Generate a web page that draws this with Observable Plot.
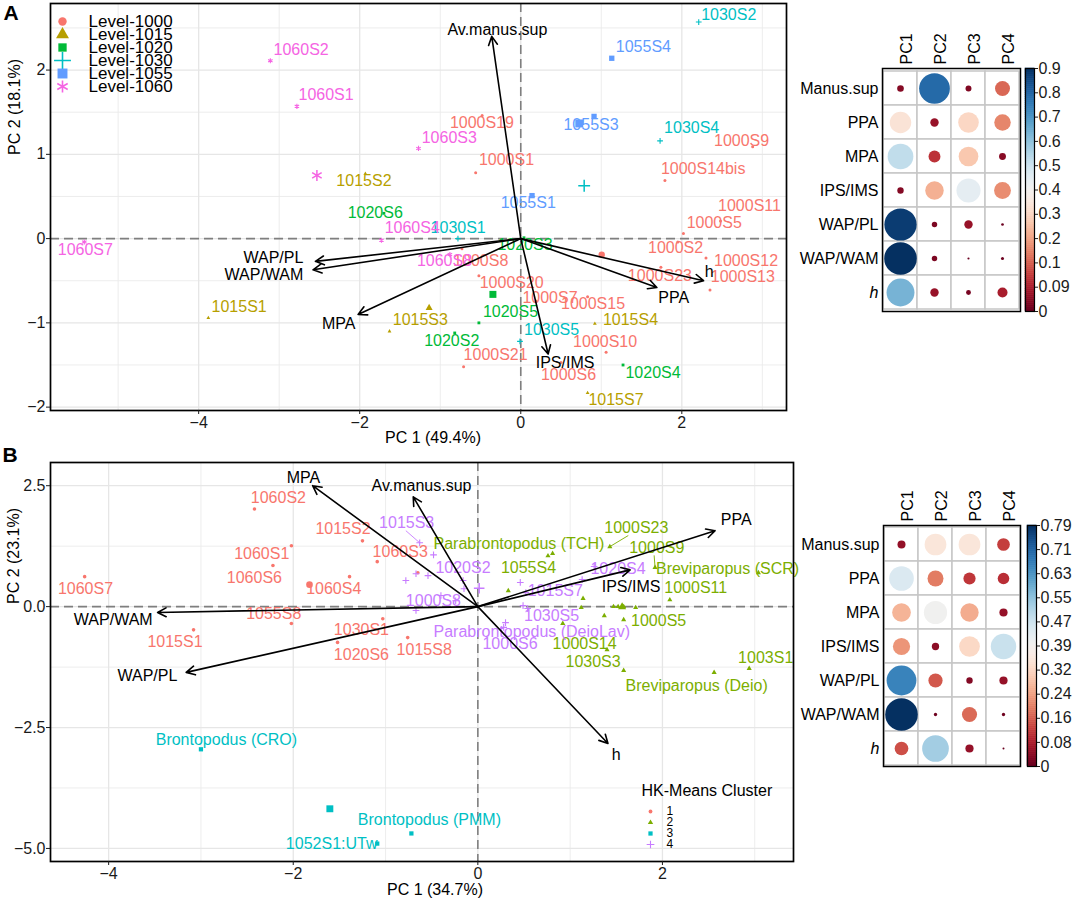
<!DOCTYPE html>
<html><head><meta charset="utf-8">
<script src="https://cdn.jsdelivr.net/npm/d3@7"></script>
<script src="https://cdn.jsdelivr.net/npm/@observablehq/plot@0.6"></script>
<style>
body{margin:0;background:#fff;}
#root{position:relative;width:1072px;height:902px;overflow:hidden;background:#fff;font-family:"Liberation Sans",Arial,sans-serif;}
</style></head><body><div id="root"></div>
<script>
// ---------------- PANEL A DATA ----------------
const namesA = ["1000S1","1000S2","1000S5","1000S6","1000S7","1000S8","1000S9","1000S10","1000S11","1000S12","1000S13","1000S14bis","1000S15","1000S19","1000S20","1000S21","1000S23",
"1015S1","1015S2","1015S3","1015S4","1015S7",
"1020S2","1020S3","1020S4","1020S5","1020S6",
"1030S1","1030S2","1030S4","1030S5",
"1055S1","1055S3","1055S4",
"1060S1","1060S2","1060S3","1060S4","1060S7","1060S8"];
const pc1A = [-0.56,1.95,2.02,0.50,0.19,-0.73,2.88,1.06,2.48,2.30,2.35,1.79,0.83,-0.48,-0.52,-0.71,1.74,
-3.88,-1.93,-1.63,0.92,0.83,
-0.82,0.04,1.27,-0.52,-1.70,
-0.78,2.21,1.73,-0.01,
0.14,0.91,1.13,
-2.78,-3.11,-1.27,-1.73,-5.42,-0.88];
const pc2A = [0.78,-0.04,0.06,-1.47,-0.74,-0.12,1.09,-1.35,0.21,-0.23,-0.61,0.69,-0.69,1.46,-0.44,-1.52,-0.34,
-0.94,0.77,-1.10,-1.01,-1.83,
-1.12,0.01,-1.50,-1.00,0.30,
0.00,2.57,1.16,-1.22,
0.51,1.45,2.14,
1.57,2.11,1.07,-0.02,-0.04,-0.19];
// repelled label anchors (data units)
const labPc1A = [-0.52,1.58,2.06,0.25,0.02,-0.84,2.40,0.65,2.45,2.40,2.36,1.74,0.50,-0.88,-0.51,-0.71,1.33,
-3.84,-2.29,-1.59,1.02,0.84,
-1.20,-0.29,1.30,-0.47,-2.15,
-1.12,2.24,1.78,0.04,
-0.25,0.53,1.18,
-2.76,-3.07,-1.23,-1.69,-5.75,-1.29];
const labPc2A = [0.93,-0.11,0.19,-1.62,-0.70,-0.26,1.16,-1.22,0.39,-0.27,-0.46,0.83,-0.77,1.37,-0.52,-1.38,-0.44,
-0.81,0.68,-0.97,-0.97,-1.91,
-1.21,-0.07,-1.59,-0.87,0.31,
0.13,2.66,1.31,-1.08,
0.42,1.35,2.28,
1.70,2.24,1.20,0.13,-0.13,-0.26];
const levelsA = ["1000","1015","1020","1030","1055","1060"];
const varsA = ["Av.manus.sup","WAP/PL","WAP/WAM","MPA","IPS/IMS","PPA","h"];
const varPc1A = [-0.36,-2.55,-2.58,-2.02,0.34,1.69,2.27];
const varPc2A = [2.40,-0.27,-0.37,-0.90,-1.37,-0.58,-0.50];
const varLabPc1A = [-0.29,-2.70,-2.70,-2.26,0.55,1.90,2.34];
const varLabPc2A = [2.48,-0.23,-0.43,-1.01,-1.48,-0.70,-0.40];
const varAnchorA = ["middle","end","end","middle","middle","middle","middle"];

// ---------------- PANEL B DATA ----------------
const namesB = ["1060S2","1015S2","1060S1","1060S3","1060S6","1060S4","1060S7","1055S8","1015S1","1030S1","1020S6","1015S8","",
"Parabrontopodus (TCH)","1055S4","1000S23","1000S9","Breviparopus (SCR)","1000S11","1000S5","1000S14","1030S3","Breviparopus (Deio)","1003S1","","","","","","","","","",
"Brontopodus (CRO)","Brontopodus (PMM)","1052S1:UTw",
"1015S3","1020S2","1000S8","1015S7","1030S5","Parabrontopodus (DeioLav)","1000S6","1020S4","","","","","","","","","",""];
const clusterB = ["1","1","1","1","1","1","1","1","1","1","1","1","1",
"2","2","2","2","2","2","2","2","2","2","2","2","2","2","2","2","2","2","2","2",
"3","3","3",
"4","4","4","4","4","4","4","4","4","4","4","4","4","4","4","4","4","4"];
const pc1B = [-2.42,-1.25,-2.02,-1.09,-2.22,-1.39,-4.26,-2.02,-3.08,-1.03,-1.52,-0.76,-0.65,
0.76,0.81,1.43,1.92,3.04,2.08,1.58,1.40,1.58,2.56,2.94,0.33,1.14,1.12,1.37,1.47,1.52,1.58,1.71,0.92,
-3.00,-0.72,-1.09,
-0.63,-0.48,-0.67,0.46,0.49,0.30,0.28,1.26,-0.78,-0.67,-0.54,-0.16,-0.15,-0.40,0.52,0.54,1.13,-0.24];
const pc2B = [2.02,1.36,1.26,0.93,0.85,0.62,0.62,-0.35,-0.48,-0.25,-0.74,-0.64,0.70,
1.05,1.10,1.24,0.81,0.70,0.14,-0.27,-0.89,-1.32,-1.36,-1.28,0.33,0.17,-0.02,-0.19,0.00,0.00,0.00,-0.02,-0.35,
-2.95,-4.69,-4.90,
1.32,1.07,-0.08,0.50,0.02,-0.33,-0.43,0.83,0.54,0.68,0.64,0.54,0.37,0.23,0.29,-0.04,0.56,0.12];
const labPc1B = [-2.46,-1.76,-2.64,-1.14,-2.72,-1.86,-4.55,-2.51,-3.58,-1.56,-1.56,-0.88,null,
-0.48,0.25,1.37,1.64,1.93,2.02,1.66,0.81,0.95,1.60,2.82,null,null,null,null,null,null,null,null,null,
-3.49,-1.30,-2.08,
-1.07,-0.46,-0.78,0.54,0.50,-0.48,0.05,1.22,null,null,null,null,null,null,null,null,null,null];
const labPc2B = [2.25,1.61,1.10,1.14,0.60,0.37,0.37,-0.14,-0.72,-0.48,-0.99,-0.89,null,
1.30,0.81,1.63,1.22,0.79,0.39,-0.29,-0.76,-1.14,-1.63,-1.05,null,null,null,null,null,null,null,null,null,
-2.75,-4.40,-4.90,
1.74,0.81,0.12,0.33,-0.19,-0.52,-0.76,0.79,null,null,null,null,null,null,null,null,null,null];
// leader lines (label end points, data units)
const segNamesB = ["1015S3","1000S23","1000S9"];
const segPc1B = [-0.78,1.63,1.91];
const segPc2B = [1.57,1.47,1.06];
const clustersB = ["1","2","3","4"];
const varsB = ["MPA","Av.manus.sup","WAP/WAM","WAP/PL","PPA","IPS/IMS","h"];
const varPc1B = [-1.79,-0.70,-3.47,-3.16,2.57,1.65,1.41];
const varPc2B = [2.50,2.27,-0.12,-1.36,1.57,0.76,-2.83];
const varLabPc1B = [-1.89,-0.61,-3.95,-3.58,2.80,1.66,1.50];
const varLabPc2B = [2.67,2.50,-0.27,-1.43,1.80,0.41,-3.06];

// ---------------- CORRELOGRAM DATA ----------------
const pcs = ["PC1","PC2","PC3","PC4"];
const corrVars = ["Manus.sup","PPA","MPA","IPS/IMS","WAP/PL","WAP/WAM","h"];
const corrA = [
  [0.037,0.80,0.03,0.19],
  [0.39,0.06,0.36,0.23],
  [0.56,0.12,0.33,0.04],
  [0.035,0.29,0.49,0.24],
  [0.88,0.025,0.06,0.006],
  [0.90,0.025,0.004,0.008],
  [0.66,0.06,0.02,0.085]];
const corrB = [
  [0.048,0.35,0.35,0.12],
  [0.45,0.19,0.11,0.10],
  [0.26,0.40,0.25,0.05],
  [0.22,0.04,0.32,0.48],
  [0.66,0.15,0.03,0.05],
  [0.79,0.008,0.17,0.008],
  [0.14,0.53,0.05,0.003]];
const cbMaxA = 0.9, cbMaxB = 0.79;
const cbLabelsA = ["0","0.09","0.1","0.2","0.3","0.4","0.5","0.6","0.7","0.8","0.9"];
const cbLabelsB = ["0","0.08","0.16","0.24","0.32","0.39","0.47","0.55","0.63","0.71","0.79"];

// ---------------- STYLES ----------------
const colorsA = ["#F8766D","#B79F00","#00BA38","#00BFC4","#619CFF","#F564E3"];
const symbolsA = ["circle","triangle","square","plus","square","asterisk"];
const smallRA = [1.5,1.4,1.6,2.0,3.0,2.4];
const meanRA = [3.2,2.6,3.95,3.9,4.5,5.2];
const legendRA = [4.2,4.8,4.7,5.5,5.6,5.7];
const colorsB = ["#F8766D","#7CAE00","#00BFC4","#C77CFF"];
const symbolsB = ["circle","triangle","square","plus"];
const smallRB = [1.8,1.9,2.4,2.3];
const meanRB = [3.3,3.0,3.9,3.5];
const legendRB = [1.9,2.0,2.4,2.6];
const FONT = "'Liberation Sans', Arial, sans-serif";
const baseStyle = {fontFamily: FONT, fontSize: "16px", background: "transparent", color: "#1a1a1a", overflow: "visible"};

const root = document.getElementById("root");
function place(el, left, top) {
  el.style.position = "absolute"; el.style.left = left + "px"; el.style.top = top + "px";
  root.appendChild(el); return el;
}
function htmlText(text, cx, cy, rot, extra) {
  const d = document.createElement("div");
  d.textContent = text;
  Object.assign(d.style, {position: "absolute", left: cx + "px", top: cy + "px",
    transform: `translate(-50%,-50%) rotate(${rot}deg)`, font: `16px ${FONT}`, whiteSpace: "nowrap", color: "#000", lineHeight: "1"}, extra || {});
  root.appendChild(d);
}
const isStrokeSym = s => s === "plus" || s === "asterisk";
function symMarks(rows, levels, colors, symbols, rs, sw) {
  return levels.map((lv, k) => {
    const s = symbols[k];
    const data = rows.filter(d => d.group === lv);
    return isStrokeSym(s)
      ? Plot.dot(data, {x: "x", y: "y", symbol: s, r: rs[k], stroke: colors[k], strokeWidth: sw, fill: "none"})
      : Plot.dot(data, {x: "x", y: "y", symbol: s, r: rs[k], fill: colors[k], stroke: "none"});
  });
}
function means(rows, levels) {
  return levels.map(lv => {
    const v = rows.filter(d => d.group === lv);
    return {group: lv, x: d3.mean(v, d => d.x), y: d3.mean(v, d => d.y)};
  });
}

// ---------------- PANEL A SCATTER ----------------
const rowsA = namesA.map((name, i) => ({name, group: name.slice(0, 4), x: pc1A[i], y: pc2A[i], lx: labPc1A[i], ly: labPc2A[i]}));
const arrowsA = varsA.map((v, i) => ({v, x: varPc1A[i], y: varPc2A[i], lx: varLabPc1A[i], ly: varLabPc2A[i], a: varAnchorA[i]}));
const meansA = means(rowsA, levelsA);

const plotA = Plot.plot({
  width: 800, height: 450, marginLeft: 50, marginRight: 14, marginTop: 3, marginBottom: 40,
  style: baseStyle,
  x: {domain: [-5.84, 3.30], nice: false},
  y: {domain: [-2.04, 2.79], nice: false},
  marks: [
    Plot.gridX([-5, -3, -1, 1, 3], {stroke: "#ebebeb", strokeOpacity: 1, strokeWidth: 0.9}),
    Plot.gridY([-1.5, -0.5, 0.5, 1.5, 2.5], {stroke: "#ebebeb", strokeOpacity: 1, strokeWidth: 0.9}),
    Plot.gridX([-4, -2, 0, 2], {stroke: "#e6e6e6", strokeOpacity: 1, strokeWidth: 1.3}),
    Plot.gridY([-2, -1, 0, 1, 2], {stroke: "#e6e6e6", strokeOpacity: 1, strokeWidth: 1.3}),
    Plot.ruleX([0], {stroke: "#7f7f7f", strokeWidth: 1.6, strokeDasharray: "9,5"}),
    Plot.ruleY([0], {stroke: "#7f7f7f", strokeWidth: 1.6, strokeDasharray: "9,5"}),
    ...symMarks(rowsA, levelsA, colorsA, symbolsA, smallRA, 1.1),
    ...levelsA.map((lv, k) => Plot.text(rowsA.filter(d => d.group === lv), {x: "lx", y: "ly", text: "name", fill: colorsA[k], textAnchor: "start", fontSize: 16})),
    ...symMarks(meansA, levelsA, colorsA, symbolsA, meanRA, 1.5),
    Plot.arrow(arrowsA, {x1: () => 0, y1: () => 0, x2: "x", y2: "y", stroke: "#000", strokeWidth: 1.6, headLength: 9, headAngle: 55}),
    Plot.text(arrowsA.filter(d => d.a === "middle"), {x: "lx", y: "ly", text: "v", fill: "#000", textAnchor: "middle", fontSize: 16}),
    Plot.text(arrowsA.filter(d => d.a === "end"), {x: "lx", y: "ly", text: "v", fill: "#000", textAnchor: "end", fontSize: 16}),
    Plot.frame({stroke: "#000", strokeWidth: 1.7}),
    Plot.axisX({ticks: [-4, -2, 0, 2], tickFormat: d3.format("d"), tickSize: 4, tickPadding: 2, fontSize: 16, label: null}),
    Plot.axisY({ticks: [-2, -1, 0, 1, 2], tickFormat: d3.format("d"), tickSize: 4, tickPadding: 1, fontSize: 16, label: null})
  ]
});
place(plotA, 0, 0);

// legend A
const legA = Plot.plot({
  width: 200, height: 105, margin: 0, style: baseStyle,
  x: {domain: [0, 1], axis: null}, y: {type: "point", domain: levelsA, range: [14, 92], axis: null},
  marks: [
    ...levelsA.map((lv, k) => isStrokeSym(symbolsA[k])
      ? Plot.dot([lv], {y: d => d, frameAnchor: "left", dx: 12, symbol: symbolsA[k], r: legendRA[k], stroke: colorsA[k], strokeWidth: 1.6, fill: "none"})
      : Plot.dot([lv], {y: d => d, frameAnchor: "left", dx: 12, symbol: symbolsA[k], r: legendRA[k], fill: colorsA[k]})),
    Plot.text(levelsA, {y: d => d, frameAnchor: "left", dx: 38, text: d => "Level-" + d, textAnchor: "start", fontSize: 17, fill: "#000"})
  ]
});
place(legA, 50, 0);

// ---------------- PANEL B SCATTER ----------------
const rowsB = namesB.map((name, i) => ({name, group: clusterB[i], x: pc1B[i], y: pc2B[i], lx: labPc1B[i], ly: labPc2B[i]}));
const arrowsB = varsB.map((v, i) => ({v, x: varPc1B[i], y: varPc2B[i], lx: varLabPc1B[i], ly: varLabPc2B[i]}));
const meansB = means(rowsB, clustersB);
const segsB = segNamesB.map((n, i) => {
  const p = rowsB.find(d => d.name === n);
  return {group: p.group, x1: p.x, y1: p.y, x2: segPc1B[i], y2: segPc2B[i]};
});

const plotB = Plot.plot({
  width: 800, height: 452, marginLeft: 50, marginRight: 7, marginTop: 12, marginBottom: 41,
  style: baseStyle,
  x: {domain: [-4.63, 3.42], nice: false},
  y: {domain: [-5.27, 2.98], nice: false},
  marks: [
    Plot.gridX([-3, -1, 1, 3], {stroke: "#ebebeb", strokeOpacity: 1, strokeWidth: 0.9}),
    Plot.gridY([-3.75, -1.25, 1.25], {stroke: "#ebebeb", strokeOpacity: 1, strokeWidth: 0.9}),
    Plot.gridX([-4, -2, 0, 2], {stroke: "#e6e6e6", strokeOpacity: 1, strokeWidth: 1.3}),
    Plot.gridY([-5, -2.5, 0, 2.5], {stroke: "#e6e6e6", strokeOpacity: 1, strokeWidth: 1.3}),
    Plot.ruleX([0], {stroke: "#7f7f7f", strokeWidth: 1.6, strokeDasharray: "9,5"}),
    Plot.ruleY([0], {stroke: "#7f7f7f", strokeWidth: 1.6, strokeDasharray: "9,5"}),
    ...clustersB.map((c, k) => Plot.link(segsB.filter(d => d.group === c), {x1: "x1", y1: "y1", x2: "x2", y2: "y2", stroke: colorsB[k], strokeWidth: 0.9})),
    ...symMarks(rowsB, clustersB, colorsB, symbolsB, smallRB, 1.1),
    ...clustersB.map((c, k) => Plot.text(rowsB.filter(d => d.group === c && d.name && d.lx != null), {x: "lx", y: "ly", text: "name", fill: colorsB[k], textAnchor: "start", fontSize: 16})),
    ...symMarks(meansB, clustersB, colorsB, symbolsB, meanRB, 1.5),
    Plot.arrow(arrowsB, {x1: () => 0, y1: () => 0, x2: "x", y2: "y", stroke: "#000", strokeWidth: 1.6, headLength: 9, headAngle: 55}),
    Plot.text(arrowsB, {x: "lx", y: "ly", text: "v", fill: "#000", textAnchor: "middle", fontSize: 16}),
    Plot.frame({stroke: "#000", strokeWidth: 1.7}),
    Plot.axisX({ticks: [-4, -2, 0, 2], tickFormat: d3.format("d"), tickSize: 4, tickPadding: 2, fontSize: 16, label: null}),
    Plot.axisY({ticks: [-5, -2.5, 0, 2.5], tickFormat: d3.format(".1f"), tickSize: 4, tickPadding: 1, fontSize: 16, label: null})
  ]
});
place(plotB, 0, 450);

// legend B
const legB = Plot.plot({
  width: 160, height: 80, margin: 0, style: baseStyle,
  x: {domain: [0, 1], axis: null}, y: {type: "point", domain: clustersB, range: [25, 69], axis: null},
  marks: [
    Plot.text(["HK-Means Cluster"], {frameAnchor: "top-left", dx: 11, dy: 10, lineAnchor: "middle", textAnchor: "start", fontSize: 16, fill: "#000"}),
    ...clustersB.map((c, k) => isStrokeSym(symbolsB[k])
      ? Plot.dot([c], {y: d => d, frameAnchor: "left", dx: 20, symbol: symbolsB[k], r: legendRB[k], stroke: colorsB[k], strokeWidth: 1.1, fill: "none"})
      : Plot.dot([c], {y: d => d, frameAnchor: "left", dx: 20, symbol: symbolsB[k], r: legendRB[k], fill: colorsB[k]})),
    Plot.text(clustersB, {y: d => d, frameAnchor: "left", dx: 36, text: d => d, textAnchor: "start", fontSize: 12, fill: "#000"})
  ]
});
place(legB, 630, 780);

// ---------------- CORRELOGRAMS ----------------
function corrPlot(vals, max, w, h, mt, mb, ml, mr) {
  const cells = [];
  corrVars.forEach((v, i) => pcs.forEach((p, j) => cells.push({v, p, val: vals[i][j]})));
  return Plot.plot({
    width: w, height: h, marginTop: mt, marginBottom: mb, marginLeft: ml, marginRight: mr,
    style: baseStyle,
    x: {domain: pcs, padding: 0, axis: null},
    y: {domain: corrVars, padding: 0, axis: null},
    color: {type: "linear", scheme: "RdBu", domain: [0, max]},
    r: {type: "sqrt", domain: [0, max], range: [0, 16.3]},
    marks: [
      Plot.cell(cells, {x: "p", y: "v", fill: "white", stroke: "#c6c6c6", strokeWidth: 1.5, inset: 0}),
      Plot.dot(cells, {x: "p", y: "v", r: "val", fill: "val"}),
      Plot.frame({stroke: "#000", strokeWidth: 1.5}),
      Plot.text(pcs, {x: d => d, frameAnchor: "top", dy: -4, rotate: -90, textAnchor: "start", fontSize: 16, fill: "#000"}),
      Plot.text(corrVars.filter(v => v !== "h"), {y: d => d, frameAnchor: "left", dx: -4, textAnchor: "end", fontSize: 16, fill: "#000"}),
      Plot.text(["h"], {y: d => d, frameAnchor: "left", dx: -4, textAnchor: "end", fontSize: 16, fontStyle: "italic", fill: "#000"})
    ]
  });
}
function colorbar(max, labels, w, h, mt, mb, ml, mr) {
  const N = 120, bins = d3.range(N);
  return Plot.plot({
    width: w, height: h, marginTop: mt, marginBottom: mb, marginLeft: ml, marginRight: mr,
    style: baseStyle,
    x: {domain: [0, 1], axis: null}, y: {domain: [0, max], axis: null},
    color: {type: "linear", scheme: "RdBu", domain: [0, max]},
    marks: [
      Plot.rect(bins, {x1: () => 0, x2: () => 1, y1: i => i * max / N, y2: i => (i + 1) * max / N, fill: i => (i + 0.5) * max / N, stroke: i => (i + 0.5) * max / N, strokeWidth: 0.6}),
      Plot.frame({stroke: "#000", strokeWidth: 1.2}),
      Plot.axisY(d3.range(11).map(i => i * max / 10), {anchor: "right", tickSize: 3, tickPadding: 1, fontSize: 16, label: null,
        tickFormat: d => labels[Math.round(d / max * 10)]})
    ]
  });
}
place(corrPlot(corrA, cbMaxA, 292, 330, 68, 19, 102, 52), 780, 0);
place(colorbar(cbMaxA, cbLabelsA, 72, 330, 68, 19, 25, 38), 1000, 0);
place(corrPlot(corrB, cbMaxB, 292, 340, 75, 24, 103, 52), 780, 450);
place(colorbar(cbMaxB, cbLabelsB, 72, 340, 75, 24, 27, 36), 1000, 450);

// ---------------- TITLES ----------------
htmlText("PC 1 (49.4%)", 433, 438, 0);
htmlText("PC 2 (18.1%)", 15, 107, -90);
htmlText("PC 1 (34.7%)", 435, 890, 0);
htmlText("PC 2 (23.1%)", 14, 556, -90);
htmlText("A", 11, 13, 0, {font: `bold 21px ${FONT}`});
htmlText("B", 10, 455, 0, {font: `bold 21px ${FONT}`});
</script></body></html>
